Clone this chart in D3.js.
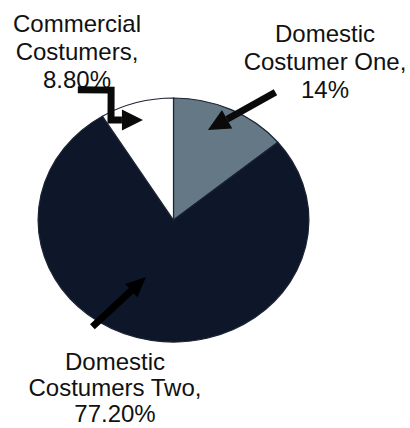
<!DOCTYPE html>
<html>
<head>
<meta charset="utf-8">
<script src="https://cdn.jsdelivr.net/npm/d3@7"></script>
<style>
  body { margin: 0; background: #fff; }
  text { font-family: "Liberation Sans", Arial, sans-serif; font-size: 24px; fill: #111; }
</style>
</head>
<body>
<svg id="chart"></svg>
<script>
// data, clockwise from 12 o'clock
const categories = ['Domestic Costumer One', 'Domestic Costumers Two', 'Commercial Costumers'];
const shares = [14, 77.2, 8.8];
const labelLines = [
  ['Domestic', 'Costumer One,', '14%'],
  ['Domestic', 'Costumers Two,', '77.20%'],
  ['Commercial', 'Costumers,', '8.80%']
];
const colors = ['#647886', '#0d1729', '#ffffff'];

const width = 410, height = 428;
const cx = 173.5, cy = 220, r = 122, sx = 1.11; // pie is a bit wider than tall

const svg = d3.select('#chart').attr('width', width).attr('height', height);

const pie = d3.pie().sort(null).value(d => d)(shares);
const arc = d3.arc().innerRadius(0).outerRadius(r);

const g = svg.append('g').attr('transform', `translate(${cx},${cy}) scale(${sx},1)`);

g.selectAll('path.slice')
  .data(pie)
  .enter()
  .append('path')
  .attr('class', 'slice')
  .attr('d', arc)
  .attr('fill', (d, i) => colors[i])
  .attr('stroke', '#1c2433')
  .attr('stroke-width', 1.2)
  .attr('vector-effect', 'non-scaling-stroke');

// point on the pie: angle in degrees from top, radius as a fraction of r
function polar(angle, frac) {
  const a = angle * Math.PI / 180;
  return [cx + Math.sin(a) * r * frac * sx, cy - Math.cos(a) * r * frac];
}

const labelPos = [
  { x: 325, y: 42, lh: 28 },
  { x: 115, y: 370, lh: 26 },
  { x: 77, y: 32, lh: 28 }
];

labelLines.forEach((lines, i) => {
  const p = labelPos[i];
  const t = svg.append('text')
    .attr('text-anchor', 'middle')
    .attr('x', p.x)
    .attr('y', p.y);
  lines.forEach((s, j) => {
    t.append('tspan').attr('x', p.x).attr('dy', j ? p.lh : 0).text(s);
  });
});

// arrows
const line = d3.line();
function arrow(points, w, headLen, headW, color) {
  const n = points.length;
  const [x1, y1] = points[n - 2], [x2, y2] = points[n - 1];
  const ang = Math.atan2(y2 - y1, x2 - x1);
  const bx = x2 - Math.cos(ang) * headLen, by = y2 - Math.sin(ang) * headLen;
  const body = points.slice(0, n - 1).concat([[bx, by]]);
  svg.append('path')
    .attr('d', line(body))
    .attr('fill', 'none')
    .attr('stroke', color)
    .attr('stroke-width', w)
    .attr('stroke-linejoin', 'miter');
  const px = -Math.sin(ang) * headW / 2, py = Math.cos(ang) * headW / 2;
  svg.append('path')
    .attr('d', line([[bx + px, by + py], [x2, y2], [bx - px, by - py]]) + 'Z')
    .attr('fill', color);
}

// Domestic One: straight arrow into the grey slice
arrow([polar(35.7, 1.29), polar(19, 0.78)], 7, 22, 21, '#0a0a0a');
// Domestic Two: from below into the dark slice
arrow([polar(214.4, 1.06), polar(203.5, 0.51)], 7, 20, 18, '#000000');
// Commercial: stepped arrow into the white slice
arrow([polar(-33.5, 1.28), polar(-23.4, 1.16), polar(-29.4, 0.94), polar(-15.4, 0.85)], 7, 21, 21, '#0a0a0a');
</script>
</body>
</html>
